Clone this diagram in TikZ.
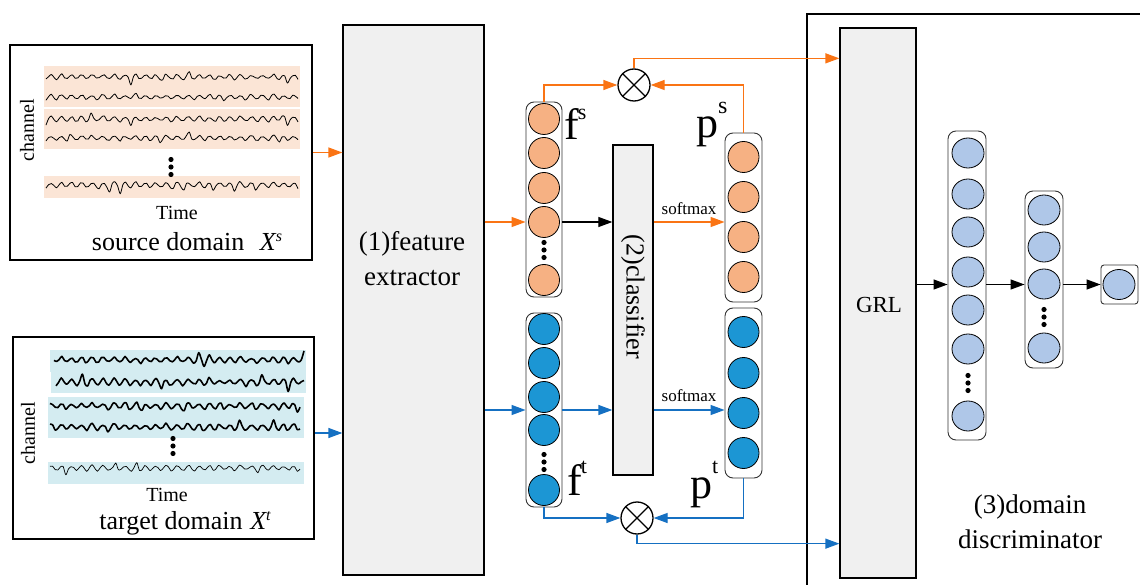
\documentclass[tikz,border=0pt]{standalone}
\usepackage{fontspec}
\setmainfont{Liberation Serif}
\newfontfamily\tnr{Liberation Serif}
\usetikzlibrary{arrows.meta,calc,shapes.geometric}

\definecolor{srcline}{HTML}{FA7414}
\definecolor{tgtline}{HTML}{1570C2}
\definecolor{srcband}{HTML}{FBE5D6}
\definecolor{tgtband}{HTML}{D4ECF1}
\definecolor{srcunit}{HTML}{F6B183}
\definecolor{tgtunit}{HTML}{1C96D4}
\definecolor{discunit}{HTML}{AFC7E8}
\definecolor{blockfill}{HTML}{F0F0F0}
\definecolor{colframe}{HTML}{333333}

% one EEG-like trace: x0, x1, baseline y, amplitude, seed, line width
\newcommand\eegtrace[6]{%
  \pgfmathsetseed{#5}%
  \draw[line width=#6, line join=round]
    plot[smooth, samples={int((#2-#1)/2.6)}, domain=#1:#2, variable=\t]
    (\t, {#3 + #4*(0.35+0.75*rnd)*(1 + 1.4*(rnd>0.9))*sin(34*\t + 25*sin(5*\t))});}

% three stacked dots
\newcommand\vdotsat[2]{%
  \foreach \k in {-7.5,0,7.5}{\fill (#1,#2+\k) circle (2.6);}}

\begin{document}
\begin{tikzpicture}[x=1pt, y=-1pt,
  panel/.style={draw, line width=1.6pt, inner sep=0pt},
  block/.style={draw, line width=1.3pt, fill=blockfill, inner sep=0pt},
  column/.style={draw=colframe, line width=0.9pt, rounded corners=8pt, inner sep=0pt},
  unit/.style={circle, draw, line width=0.8pt, minimum size=31pt, inner sep=0pt},
  sunit/.style={unit, fill=srcunit},
  tunit/.style={unit, fill=tgtunit},
  dunit/.style={ellipse, draw, line width=0.8pt, minimum width=32pt, minimum height=30pt, inner sep=0pt, fill=discunit},
  otimesnode/.style={circle, draw, line width=1.3pt, minimum size=32pt, inner sep=0pt},
  arr/.style={-{Triangle[length=14pt,width=10pt]}},
  sarrow/.style={arr, draw=srcline, line width=1.3pt},
  tarrow/.style={arr, draw=tgtline, line width=1.3pt},
  karrow/.style={arr, line width=1.2pt},
  biglbl/.style={anchor=base west, inner sep=0pt, font=\tnr\fontsize{44}{44}\selectfont},
  name27/.style={font=\tnr\fontsize{27}{35}\selectfont, align=center, inner sep=0pt},
  small/.style={font=\tnr\fontsize{20}{20}\selectfont, inner sep=0pt},
  smx/.style={font=\tnr\fontsize{17}{17}\selectfont, inner sep=0pt}]

\useasboundingbox (0,0) rectangle (1140,585);
\clip (0,0) rectangle (1140,585);

% ---------------- source domain panel ----------------
\node[panel, minimum width=302pt, minimum height=215pt] (src) at (161,152.5) {};
\fill[srcband] (44,66) rectangle (300,107);
\fill[srcband] (44,109) rectangle (300,149);
\fill[srcband] (44,176) rectangle (300,198);
\eegtrace{46}{298}{77}{3.2}{11}{0.8pt}
\eegtrace{46}{298}{97}{3.2}{23}{0.8pt}
\eegtrace{46}{298}{119}{3.2}{37}{0.8pt}
\eegtrace{46}{298}{138}{3.2}{41}{0.8pt}
\eegtrace{46}{298}{185}{3.6}{59}{0.8pt}
\vdotsat{171}{167}
\node[small, rotate=90] (srcch) at (27,130) {channel};
\node[small] (srctime) at (177,213) {Time};
\node[font=\tnr\fontsize{26}{26}\selectfont, inner sep=0pt] (srcname) at (187,242)
  {source domain\hspace{0.6em}{\itshape X}{\fontsize{16}{16}\selectfont\raisebox{9pt}{\itshape s}}};

% ---------------- target domain panel ----------------
\node[panel, minimum width=301pt, minimum height=202pt] (tgt) at (163.5,438) {};
\fill[tgtband] (50,350) rectangle (306,372);
\fill[tgtband] (51,371) rectangle (306,393);
\fill[tgtband] (48,397) rectangle (304,438);
\fill[tgtband] (48,462) rectangle (304,484);
\eegtrace{54}{304}{360}{3.6}{71}{1.6pt}
\eegtrace{56}{304}{382}{3.8}{83}{1.6pt}
\eegtrace{50}{300}{406}{3.8}{97}{1.6pt}
\eegtrace{50}{300}{427}{3.6}{101}{1.6pt}
\eegtrace{50}{300}{468}{3.2}{113}{0.7pt}
\vdotsat{173}{446}
\node[small, rotate=90] (tgtch) at (28,433) {channel};
\node[small] (tgttime) at (167,495) {Time};
\node[font=\tnr\fontsize{26}{26}\selectfont, inner sep=0pt] (tgtname) at (185,523)
  {target domain\hspace{0.3em}{\itshape X}{\fontsize{16}{16}\selectfont\raisebox{9pt}{\itshape t}}};

% ---------------- feature extractor ----------------
\node[block, minimum width=141pt, minimum height=550pt] (fe) at (413.5,300) {};
\node[name27] (fetext) at (412,259) {(1)feature\\extractor};

% ---------------- source feature / prediction columns ----------------
\node[column, minimum width=36pt, minimum height=195pt] (fs) at (544,199.5) {};
\foreach \y [count=\i] in {119,153,188,222,280}
  \node[sunit] (fs\i) at (544,\y) {};
\vdotsat{544}{250}
\node[biglbl] (fslbl) at (564,140) {f\kern-1pt{\fontsize{22}{22}\selectfont\raisebox{20pt}{s}}};

\node[column, minimum width=37pt, minimum height=169pt] (ps) at (743.5,217.5) {};
\foreach \y [count=\i] in {157,197,237,277}
  \node[sunit] (ps\i) at (743.5,\y) {};
\node[biglbl] (pslbl) at (696,137.5) {p{\fontsize{24}{24}\selectfont\raisebox{24pt}{s}}};

% ---------------- target feature / prediction columns ----------------
\node[column, minimum width=36pt, minimum height=194pt] (ft) at (544,410) {};
\foreach \y [count=\i] in {329,363,397,430,490}
  \node[tunit] (ft\i) at (544,\y) {};
\vdotsat{544}{462}
\node[biglbl] (ftlbl) at (567,495) {f\kern-1pt{\fontsize{22}{22}\selectfont\raisebox{22pt}{t}}};

\node[column, minimum width=37pt, minimum height=170pt] (pt) at (743.5,393) {};
\foreach \y [count=\i] in {332,373,413,453}
  \node[tunit] (pt\i) at (743.5,\y) {};
\node[biglbl] (ptlbl) at (690,498) {p{\fontsize{22}{22}\selectfont\raisebox{25pt}{t}}};

% ---------------- classifier ----------------
\node[block, minimum width=40pt, minimum height=330pt] (cls) at (633,310) {};
\node[font=\tnr\fontsize{26}{26}\selectfont, rotate=-90, inner sep=0pt] (clstext) at (633,297) {(2)classifier};

% ---------------- products ----------------
\node[otimesnode] (o1) at (634,85) {};
\draw[line width=1.3pt] (o1.north west) -- (o1.south east) (o1.north east) -- (o1.south west);
\node[otimesnode] (o2) at (637,518) {};
\draw[line width=1.3pt] (o2.north west) -- (o2.south east) (o2.north east) -- (o2.south west);

% ---------------- domain discriminator ----------------
\draw[line width=1.6pt] (807,600) -- (807,14) -- (1150,14);
\node[block, minimum width=76pt, minimum height=550pt] (grl) at (878,303) {};
\node[font=\tnr\fontsize{23}{23}\selectfont, inner sep=0pt] (grltext) at (879,305) {GRL};

\node[column, minimum width=38pt, minimum height=309pt] (d1) at (967,285.5) {};
\foreach \y [count=\i] in {153,194,232,272,310,349,416}
  \node[dunit] (d1u\i) at (968,\y) {};
\vdotsat{968}{383}

\node[column, minimum width=38pt, minimum height=177pt] (d2) at (1044,279.5) {};
\foreach \y [count=\i] in {210,247,284,348}
  \node[dunit] (d2u\i) at (1044,\y) {};
\vdotsat{1044}{317}

\node[draw=colframe, line width=0.9pt, rounded corners=3pt, minimum width=37pt, minimum height=39pt, inner sep=0pt] (out) at (1119.5,284.5) {};
\node[dunit] (outu) at (1119,284.5) {};

\node[name27] (disctext) at (1030,522) {(3)domain\\discriminator};

% ---------------- connectors ----------------
\draw[sarrow] (src.east) -- (src.east -| fe.west);
\draw[tarrow] (tgt.east) ++(0,-5) coordinate (tgtout) -- (tgtout -| fe.west);

\draw[sarrow] (fs4 -| fe.east) -- (fs4 -| fs.west);
\draw[karrow] (fs4 -| fs.east) -- (fs4 -| cls.west);
\draw[sarrow] (fs4 -| cls.east) -- node[smx, above=7pt] (smxs) {softmax} (fs4 -| ps.west);

\draw[tarrow] (ft.west -| fe.east) -- (ft.west);
\draw[tarrow] (ft.east) -- (ft.east -| cls.west);
\draw[tarrow] (ft.east -| cls.east) -- node[smx, above=8pt] (smxt) {softmax} (ft.east -| pt.west);

\draw[sarrow] (fs.north) |- (o1.west);
\draw[sarrow] (ps.north) |- (o1.east);
\draw[sarrow] (o1.north) |- ($(grl.north west)+(0,31)$);

\draw[tarrow] (ft.south) |- (o2.west);
\draw[tarrow] (pt.south) |- (o2.east);
\draw[tarrow] (o2.south) |- ($(grl.south west)+(0,-35)$);

\draw[karrow] (out.west -| grl.east) -- (out.west -| d1.west);
\draw[karrow] (out.west -| d1.east) -- (out.west -| d2.west);
\draw[karrow] (out.west -| d2.east) -- (out.west);

\end{tikzpicture}
\end{document}
